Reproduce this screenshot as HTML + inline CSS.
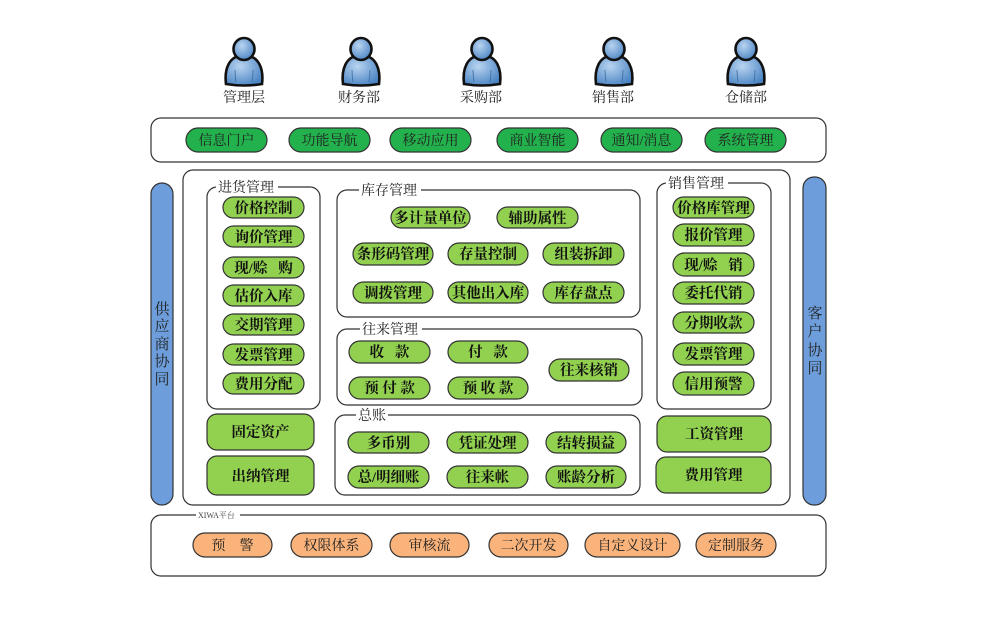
<!DOCTYPE html>
<html><head><meta charset="utf-8"><style>
html,body{margin:0;padding:0;background:#fff;}
svg{display:block;}
text{font-family:"Liberation Serif","Noto Serif CJK SC",serif;}
.b{font-weight:bold;font-size:14.5px;fill:#111;}
.t{font-size:14px;fill:#222;}
</style></head><body>
<svg width="981" height="623" viewBox="0 0 981 623" xmlns="http://www.w3.org/2000/svg">
<defs>
<radialGradient id="pg" cx="0.4" cy="0.35" r="0.7">
<stop offset="0" stop-color="#b9d4f0"/><stop offset="1" stop-color="#4a84c4"/>
</radialGradient>
<g id="person">
<path d="M-18,84 C-20,68 -14,57 -4,56 L4,56 C14,57 20,68 18,84 Q0,87 -18,84 Z" fill="url(#pg)" stroke="#111" stroke-width="2.6"/>
<ellipse cx="0" cy="49" rx="10.5" ry="11" fill="url(#pg)" stroke="#111" stroke-width="2.6"/>
<path d="M-9,70 Q-9,76 -8,82 M9,70 Q9,76 8,82" fill="none" stroke="#3a6aa0" stroke-width="0.8"/>
</g>
</defs>

<!-- persons -->
<use href="#person" x="244" y="0"/>
<use href="#person" x="361" y="0"/>
<use href="#person" x="482" y="0"/>
<use href="#person" x="614" y="0"/>
<use href="#person" x="746" y="0"/>
<g class="t" text-anchor="middle">
<text x="244" y="102">管理层</text>
<text x="359" y="102">财务部</text>
<text x="481" y="102">采购部</text>
<text x="613" y="102">销售部</text>
<text x="746" y="102">仓储部</text>
</g>

<!-- top bar -->
<rect x="151" y="118" width="675" height="44" rx="10" fill="#fff" stroke="#333" stroke-width="1.2"/>
<g fill="#22b14c" stroke="#333" stroke-width="1.2">
<rect x="186" y="128" width="81" height="24" rx="12"/>
<rect x="289" y="128" width="81" height="24" rx="12"/>
<rect x="390" y="128" width="81" height="24" rx="12"/>
<rect x="497" y="128" width="81" height="24" rx="12"/>
<rect x="601" y="128" width="81" height="24" rx="12"/>
<rect x="705" y="128" width="81" height="24" rx="12"/>
</g>
<g class="t" text-anchor="middle" fill="#111">
<text x="226.5" y="145">信息门户</text>
<text x="329.5" y="145">功能导航</text>
<text x="430.5" y="145">移动应用</text>
<text x="537.5" y="145">商业智能</text>
<text x="641.5" y="145">通知/消息</text>
<text x="745.5" y="145">系统管理</text>
</g>

<!-- blue side bars -->
<rect x="151" y="183" width="22" height="322" rx="11" fill="#6d9edb" stroke="#333" stroke-width="1.2"/>
<rect x="803" y="177" width="23" height="328" rx="11" fill="#6d9edb" stroke="#333" stroke-width="1.2"/>
<g class="t" text-anchor="middle" style="font-size:15px">
<text x="162" y="314">供</text>
<text x="162" y="331">应</text>
<text x="162" y="349">商</text>
<text x="162" y="366">协</text>
<text x="162" y="384">同</text>
<text x="815" y="318">客</text>
<text x="815" y="336">户</text>
<text x="815" y="355">协</text>
<text x="815" y="373">同</text>
</g>

<!-- main box -->
<rect x="183" y="170" width="607" height="335" rx="10" fill="#fff" stroke="#333" stroke-width="1.2"/>

<!-- group boxes -->
<g fill="none" stroke="#333" stroke-width="1.2">
<rect x="207" y="187" width="113" height="222" rx="10"/>
<rect x="337" y="190" width="303" height="127" rx="10"/>
<rect x="337" y="329" width="305" height="76" rx="10"/>
<rect x="335" y="415" width="305" height="80" rx="10"/>
<rect x="657" y="183" width="114" height="226" rx="10"/>
</g>
<g fill="#fff">
<rect x="216" y="179" width="62" height="14"/>
<rect x="359" y="182" width="62" height="14"/>
<rect x="360" y="321" width="62" height="14"/>
<rect x="356" y="407" width="32" height="14"/>
<rect x="666" y="175" width="62" height="14"/>
</g>
<g class="t" style="font-size:14px">
<text x="218" y="192">进货管理</text>
<text x="361" y="195">库存管理</text>
<text x="362" y="334">往来管理</text>
<text x="358" y="420">总账</text>
<text x="668" y="188">销售管理</text>
</g>

<!-- light green buttons -->
<g fill="#92d050" stroke="#333" stroke-width="1.2">
<rect x="223" y="197" width="81" height="21" rx="10.5"/>
<rect x="223" y="226" width="81" height="21" rx="10.5"/>
<rect x="223" y="257" width="81" height="21" rx="10.5"/>
<rect x="223" y="285" width="81" height="21" rx="10.5"/>
<rect x="223" y="314" width="81" height="21" rx="10.5"/>
<rect x="223" y="344" width="81" height="21" rx="10.5"/>
<rect x="223" y="373" width="81" height="21" rx="10.5"/>
<rect x="207" y="414" width="107" height="36" rx="10"/>
<rect x="207" y="456" width="107" height="39" rx="10"/>
<rect x="391" y="207" width="79" height="21" rx="10.5"/>
<rect x="497" y="207" width="81" height="21" rx="10.5"/>
<rect x="353" y="243" width="80" height="22" rx="11"/>
<rect x="448" y="243" width="80" height="22" rx="11"/>
<rect x="543" y="243" width="81" height="22" rx="11"/>
<rect x="353" y="282" width="80" height="21" rx="10.5"/>
<rect x="448" y="282" width="80" height="21" rx="10.5"/>
<rect x="543" y="282" width="81" height="21" rx="10.5"/>
<rect x="349" y="341" width="81" height="22" rx="11"/>
<rect x="448" y="341" width="80" height="22" rx="11"/>
<rect x="549" y="359" width="80" height="22" rx="11"/>
<rect x="349" y="377" width="81" height="22" rx="11"/>
<rect x="448" y="377" width="80" height="22" rx="11"/>
<rect x="348" y="432" width="81" height="21" rx="10.5"/>
<rect x="447" y="432" width="81" height="21" rx="10.5"/>
<rect x="546" y="432" width="80" height="21" rx="10.5"/>
<rect x="348" y="466" width="81" height="22" rx="11"/>
<rect x="447" y="466" width="81" height="22" rx="11"/>
<rect x="546" y="466" width="80" height="22" rx="11"/>
<rect x="673" y="197" width="81" height="21" rx="10.5"/>
<rect x="673" y="224" width="81" height="22" rx="11"/>
<rect x="673" y="253" width="81" height="23" rx="11.5"/>
<rect x="673" y="282" width="81" height="22" rx="11"/>
<rect x="673" y="312" width="81" height="21" rx="10.5"/>
<rect x="673" y="343" width="81" height="22" rx="11"/>
<rect x="673" y="372" width="81" height="23" rx="11.5"/>
<rect x="657" y="416" width="114" height="36" rx="10"/>
<rect x="656" y="457" width="115" height="36" rx="10"/>
</g>
<g class="b" text-anchor="middle">
<text x="263.5" y="213">价格控制</text>
<text x="263.5" y="242">询价管理</text>
<text x="263.5" y="273" xml:space="preserve">现/赊   购</text>
<text x="263.5" y="301">估价入库</text>
<text x="263.5" y="330">交期管理</text>
<text x="263.5" y="360">发票管理</text>
<text x="263.5" y="389">费用分配</text>
<text x="260.5" y="437">固定资产</text>
<text x="260.5" y="481">出纳管理</text>

<text x="430.5" y="223">多计量单位</text>
<text x="537.5" y="223">辅助属性</text>
<text x="393" y="259">条形码管理</text>
<text x="488" y="259">存量控制</text>
<text x="583.5" y="259">组装拆卸</text>
<text x="393" y="298">调拨管理</text>
<text x="488" y="298">其他出入库</text>
<text x="583.5" y="298">库存盘点</text>

<text x="389.5" y="357" xml:space="preserve">收   款</text>
<text x="488" y="357" xml:space="preserve">付   款</text>
<text x="589" y="375">往来核销</text>
<text x="389.5" y="393" xml:space="preserve">预 付 款</text>
<text x="488" y="393" xml:space="preserve">预 收 款</text>

<text x="388.5" y="448">多币别</text>
<text x="487.5" y="448">凭证处理</text>
<text x="586" y="448">结转损益</text>
<text x="388.5" y="482">总/明细账</text>
<text x="487.5" y="482">往来帐</text>
<text x="586" y="482">账龄分析</text>

<text x="713.5" y="213">价格库管理</text>
<text x="713.5" y="240">报价管理</text>
<text x="713.5" y="270" xml:space="preserve">现/赊   销</text>
<text x="713.5" y="298">委托代销</text>
<text x="713.5" y="328">分期收款</text>
<text x="713.5" y="359">发票管理</text>
<text x="713.5" y="389">信用预警</text>
<text x="714" y="439">工资管理</text>
<text x="713.5" y="480">费用管理</text>
</g>

<!-- bottom platform -->
<rect x="151" y="515" width="675" height="61" rx="10" fill="#fff" stroke="#333" stroke-width="1.2"/>
<rect x="196" y="510" width="44" height="10" fill="#fff"/>
<text x="198" y="518" style="font-size:8px;fill:#444">XIWA平台</text>
<g fill="#fab47b" stroke="#333" stroke-width="1.2">
<rect x="193" y="533" width="79" height="24" rx="12"/>
<rect x="291" y="533" width="81" height="24" rx="12"/>
<rect x="390" y="533" width="79" height="24" rx="12"/>
<rect x="489" y="533" width="79" height="24" rx="12"/>
<rect x="585" y="533" width="95" height="24" rx="12"/>
<rect x="696" y="533" width="80" height="24" rx="12"/>
</g>
<g class="t" text-anchor="middle" fill="#222">
<text x="232.5" y="550" xml:space="preserve">预    警</text>
<text x="331.5" y="550">权限体系</text>
<text x="429.5" y="550">审核流</text>
<text x="528.5" y="550">二次开发</text>
<text x="632.5" y="550">自定义设计</text>
<text x="736" y="550">定制服务</text>
</g>
</svg>
</body></html>
